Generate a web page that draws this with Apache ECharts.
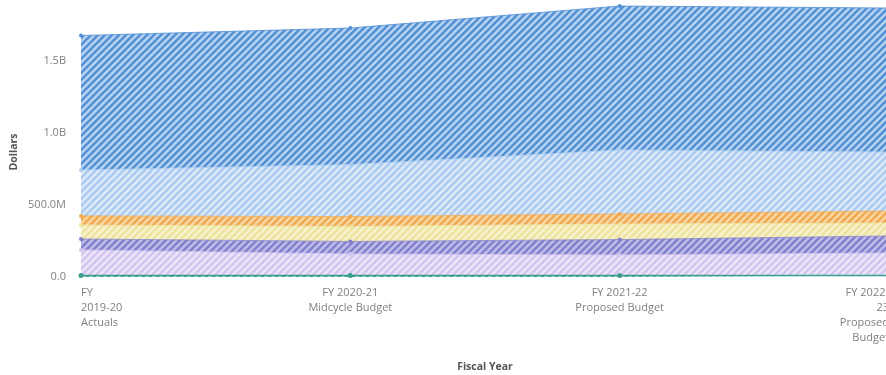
<!DOCTYPE html>
<html>
<head>
<meta charset="utf-8">
<script src="https://cdn.jsdelivr.net/npm/echarts@6/dist/echarts.min.js"></script>
<style>
  html, body { margin: 0; padding: 0; background: #ffffff; }
  #chart { width: 886px; height: 375px; }
</style>
</head>
<body>
<div id="chart"></div>
<script>
// Fiscal year categories (tick labels, already wrapped)
const categories = [
  'FY\n2019-20\nActuals',
  'FY 2020-21\nMidcycle Budget',
  'FY 2021-22\nProposed Budget',
  'FY 2022-\n23\nProposed\nBudget'
];

// Y axis tick values, in millions of dollars
const yTicks = [0, 500, 1000, 1500, 2000];

// Stacked amounts per category, in millions of dollars (bottom to top)
const tealValues     = [10, 10, 10, 10];
const lavenderValues = [178, 150, 143, 157];
const indigoValues   = [76, 87, 107, 118];
const yellowValues   = [97, 104, 108, 90];
const orangeValues   = [63, 69, 70, 83];
const skyValues      = [319, 361, 444, 410];
const blueValues     = [934, 948, 1000, 1000];

// Diagonal hatch tile: light background with darker "/" stripes
function hatch(bg, stripe) {
  const s = 7;
  const c = document.createElement('canvas');
  c.width = s; c.height = s;
  const g = c.getContext('2d');
  g.fillStyle = bg;
  g.fillRect(0, 0, s, s);
  g.strokeStyle = stripe;
  g.lineWidth = 2.4;
  g.beginPath();
  g.moveTo(0, s); g.lineTo(s, 0);
  g.moveTo(-1, 1); g.lineTo(1, -1);
  g.moveTo(s - 1, s + 1); g.lineTo(s + 1, s - 1);
  g.stroke();
  return { image: c, repeat: 'repeat' };
}

function fmt(v) {
  if (v === 0) return '0.0';
  if (v >= 1000) return (v / 1000).toFixed(1) + 'B';
  return v.toFixed(1) + 'M';
}

const layers = [
  { name: 'Teal',     data: tealValues,     stripe: '#3a9e8a', bg: '#bfe3da' },
  { name: 'Lavender', data: lavenderValues, stripe: '#d3c5f1', bg: '#ece5f9' },
  { name: 'Indigo',   data: indigoValues,   stripe: '#8280cc', bg: '#bebce9' },
  { name: 'Yellow',   data: yellowValues,   stripe: '#ece39e', bg: '#f7f2cc' },
  { name: 'Orange',   data: orangeValues,   stripe: '#f1a84f', bg: '#f8d6a3' },
  { name: 'Sky',      data: skyValues,      stripe: '#aacbef', bg: '#dbe9f8' },
  { name: 'Blue',     data: blueValues,     stripe: '#528fd4', bg: '#b6d2f1' }
];

const axisText = { color: '#808080', fontSize: 11, fontFamily: 'Open Sans' };

const chart = echarts.init(document.getElementById('chart'), null, { renderer: 'canvas' });
chart.setOption({
  animation: false,
  backgroundColor: '#ffffff',
  grid: { left: 81, top: -11, width: 808, height: 288, containLabel: false, outerBoundsMode: 'none' },
  xAxis: {
    type: 'category',
    boundaryGap: false,
    data: categories.map(function (c, i) {
      if (i === 0) return { value: c, textStyle: { align: 'left' } };
      if (i === categories.length - 1) return { value: c, textStyle: { align: 'right' } };
      return c;
    }),
    name: 'Fiscal Year',
    nameLocation: 'middle',
    nameGap: 85,
    nameTextStyle: { color: '#555', fontSize: 10.5, fontWeight: 'bold', fontFamily: 'Open Sans' },
    axisLine: { show: false },
    axisTick: { show: false },
    splitLine: { show: false },
    axisLabel: Object.assign({ interval: 0, margin: 8, lineHeight: 15, hideOverlap: false }, axisText)
  },
  yAxis: {
    type: 'value',
    min: yTicks[0],
    max: yTicks[yTicks.length - 1],
    interval: yTicks[1] - yTicks[0],
    axisLine: { show: false },
    axisTick: { show: false },
    splitLine: { show: false },
    axisLabel: Object.assign({ margin: 15, formatter: fmt }, axisText)
  },
  graphic: [{
    type: 'text',
    x: 14,
    y: 152,
    rotation: Math.PI / 2,
    style: {
      text: 'Dollars',
      align: 'center',
      verticalAlign: 'middle',
      fill: '#555',
      font: 'bold 10.5px "Open Sans"'
    }
  }],
  series: layers.map(function (l) {
    return {
      name: l.name,
      type: 'line',
      stack: 'total',
      data: l.data,
      symbol: 'circle',
      symbolSize: l.name === 'Teal' ? 5 : 4,
      showSymbol: true,
      itemStyle: { color: l.stripe },
      lineStyle: { color: l.stripe, width: l.name === 'Teal' ? 1.5 : 0.8 },
      areaStyle: { color: hatch(l.bg, l.stripe), opacity: 1 }
    };
  })
});
</script>
</body>
</html>
